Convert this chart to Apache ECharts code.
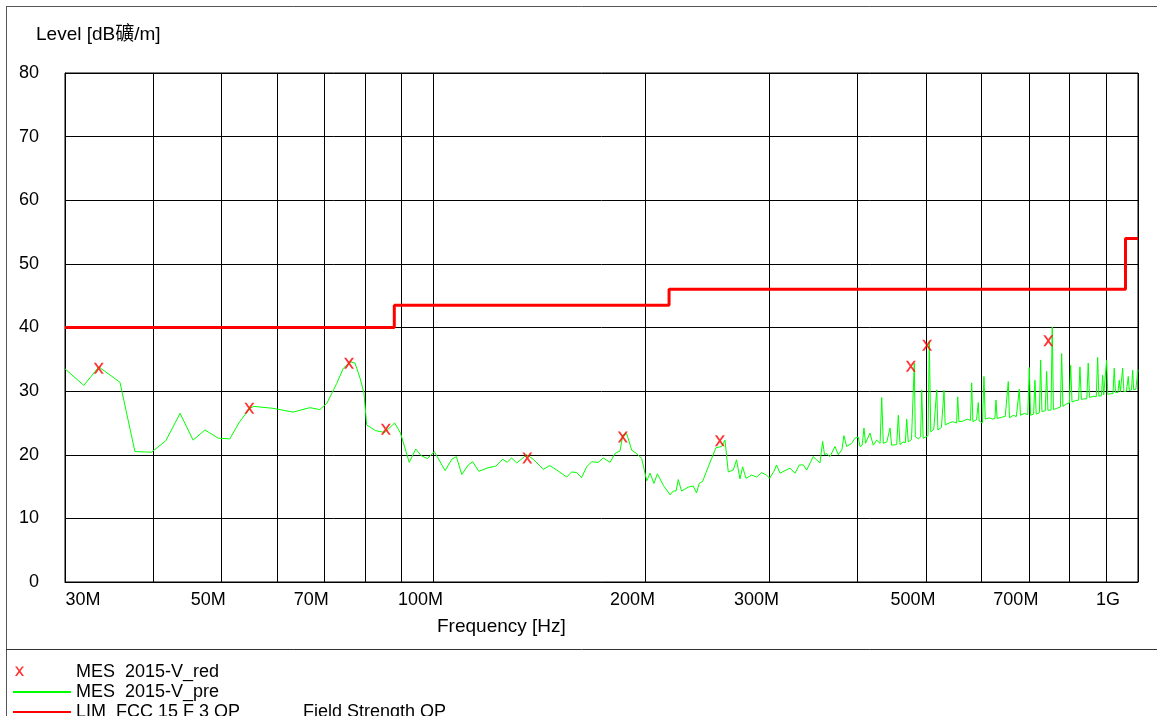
<!DOCTYPE html>
<html>
<head>
<meta charset="utf-8">
<script src="https://cdn.jsdelivr.net/npm/echarts@6.0.0/dist/echarts.min.js"></script>
<style>
  html, body { margin: 0; padding: 0; background: #fff; }
  #chart { width: 1157px; height: 716px; }
</style>
</head>
<body>
<div id="chart"></div>
<script>
// frequency in MHz, level in dBuV/m
var preFreq = [
  30, 31.9, 33.5, 35.9, 37.7, 39.8, 41.7, 43.7, 45.6, 47.4, 49.5, 51.4, 53.1, 54.9, 55.6, 59.2, 63.2, 66.8, 69.0, 70.6,
  72.9, 74.5, 76.2, 77.4, 78.6, 79.7, 80.4, 82.7, 85.3, 88.1, 89.8, 92.4, 94.4, 96.2, 98.1, 100.3, 103.9, 106.2, 107.8,
  109.7, 112.1, 113.7, 116.0, 119.9, 122.6, 125.4, 127.3, 129.1, 131.3, 135.6, 138.6, 143.2, 146.3, 149.6, 154.6, 157.1,
  159.7, 162.3, 165.0, 167.7, 171.4, 174.2, 178.1, 181.0, 184.0, 185.7, 188.1, 191.2, 194.3, 197.5, 200.8, 203.0, 205.6,
  207.9, 212.0, 216.7, 219.0, 221.0, 222.6, 225.0, 229.9, 233.7, 236.3, 238.4, 241.0, 243.7, 248.2, 251.8, 256.5, 259.3,
  262.1, 266.4, 269.3, 272.3, 274.7, 277.7, 282.9, 287.6, 292.3, 297.1, 300.0, 304.3, 306.9, 310.4, 320.7, 326.0, 330.6,
  334.9, 338.6, 346.0, 349.9, 353.7, 356.8, 359, 361.5, 365.4, 371.5, 375.5, 380, 382.5, 385.9, 392.3, 396.5,
  400.8, 403.1, 406, 408.4, 410.5, 416.5, 421.0, 425.7, 430.5, 432.8, 435, 440, 444.7, 447, 454.5, 456.9, 459.5,
  464, 467.5, 469.6, 472, 477, 479.8, 481.4, 483, 488, 491.5, 493.2, 495.5, 500, 503.5, 505.6, 508, 513, 516.3,
  518.0, 520, 526, 529, 530.5, 532.5, 540, 545, 552.8, 554.8, 557, 565, 572, 578.5, 580.7, 583, 590, 592, 593.4,
  595, 601.5, 604.5, 607, 615, 622, 626.5, 628.7, 631, 640, 648, 652, 654.5, 657, 665, 672, 676, 678.4, 681, 690,
  697.5, 700.9, 704, 711, 714.1, 717, 724.5, 727.5, 730.5, 738.5, 741.9, 745, 752.5, 755.6, 758.5, 767, 776, 779.2,
  782.5, 792, 799, 802.4, 806, 815, 823.5, 827.2, 831, 840, 846, 849.9, 853.5, 865, 872.5, 876.5, 880, 887.5, 890.9,
  894, 899, 902.6, 906, 915, 921.5, 925.3, 929, 936.5, 940.6, 944, 947.5, 951.1, 955, 963, 965, 968.7, 972, 979,
  982.7, 986, 993, 997, 1000
];
var preLevel = [
  33.5, 30.9, 33.8, 31.4, 20.5, 20.4, 22.2, 26.5, 22.3, 23.9, 22.6, 22.5, 25.2, 27.3, 27.6, 27.3, 26.7, 27.4, 27.1, 28.1,
  31.2, 33.6, 34.6, 34.4, 32.2, 29.7, 24.7, 23.8, 23.5, 25.0, 23.4, 18.8, 20.9, 19.8, 19.4, 20.5, 17.5, 19.3, 19.7,
  16.9, 18.4, 18.9, 17.4, 18.0, 18.2, 19.3, 18.8, 19.5, 18.7, 20.0, 19.3, 17.7, 18.3, 17.6, 16.5, 17.3,
  17.2, 16.4, 18.1, 18.9, 18.8, 19.5, 18.8, 20.2, 20.6, 23.1, 23.3, 20.7, 20.2, 19.4, 15.9, 17.1, 15.5,
  17.0, 15.2, 13.7, 14.3, 14.3, 16.1, 14.3, 14.9, 15.1, 14.0, 15.5, 15.8, 17.2, 19.4, 21.1, 21.3, 22.3,
  17.3, 17.6, 19.2, 16.2, 18.1, 16.3, 16.8, 16.5, 17.2, 16.8, 16.3, 17.4, 18.4, 17.1, 17.9, 17.1, 18.4,
  18.4, 17.6, 19.7, 19.2, 18.7, 22.1, 20.0, 20.2, 19.7, 21.3, 20.0, 20.8, 23.0, 21.3, 21.8, 22.6,
  22.8, 21.3, 21.5, 24.2, 21.8, 23.4, 21.5, 22.3, 21.8, 29.0, 21.8, 22.0, 24.2, 21.5, 21.6, 26.2, 21.6,
  22.0, 21.9, 25.6, 22.0, 22.4, 22.6, 34.4, 22.8, 22.5, 22.8, 30.2, 22.6, 22.8, 23.0, 37.8, 23.6, 24.0, 23.8,
  30.2, 23.9, 24.3, 24.5, 30.1, 24.7, 25.0, 25.2, 25.0, 29.1, 25.2, 25.3, 25.6, 25.4, 31.3, 25.2, 25.5, 25.6, 28.2,
  25.3, 25.0, 32.3, 25.6, 25.8, 25.6, 25.7, 28.6, 25.7, 25.9, 26.0, 25.8, 31.5, 25.8, 26.2, 26.0, 26.1, 30.3, 26.2, 26.5,
  26.3, 33.7, 26.2, 26.4, 31.7, 26.4, 26.6, 34.9, 26.8, 26.9, 33.1, 27.0, 27.0, 40.1, 27.1, 27.3, 27.5, 35.9,
  27.6, 28.0, 28.1, 34.1, 28.3, 28.5, 28.6, 33.8, 28.7, 28.8, 28.8, 34.4, 29.0, 29.2, 29.1, 35.3, 29.2, 29.3, 32.5,
  29.4, 29.4, 34.9, 29.5, 29.6, 29.6, 33.6, 29.8, 29.8, 31.7, 29.9, 29.9, 33.6, 29.9, 30.0, 30.0, 32.3, 30.1, 30.2,
  33.3, 30.2, 30.3, 30.3, 33.4
];

var redFreq = [33.5, 54.8, 75.9, 85.6, 135.9, 185.7, 255, 476, 502, 746];
var redLevel = [33.6, 27.3, 34.4, 24.0, 19.5, 22.8, 22.2, 33.9, 37.2, 37.9];

var limFreq = [30, 88, 216, 960, 1000];
var limLevel = [40, 43.5, 46, 54, 54];

var gridFreqs = [30, 40, 50, 60, 70, 80, 90, 100, 200, 300, 400, 500, 600, 700, 800, 900, 1000];
var labelFreqs = [30, 50, 70, 100, 200, 300, 500, 700, 1000];

function zip(xs, ys) {
  return xs.map(function (x, i) { return [x, ys[i]]; });
}

var FONT = '"Liberation Sans", Arial, "Noto Sans CJK SC", sans-serif';
var xMark = 'path://M0,0 L2.2,0 L5,3.6 L7.8,0 L10,0 L6.1,5 L10,10 L7.8,10 L5,6.4 L2.2,10 L0,10 L3.9,5 Z';
// same cross, kept at the left end of a 58px wide legend slot
var xLegend = 'path://M2,0 L4,0 L6.5,3.3 L9,0 L11,0 L7.5,4.6 L11,9.5 L9,9.5 L6.5,5.9 L4,9.5 L2,9.5 L5.5,4.6 Z M58,0 M0,11';

var chart = echarts.init(document.getElementById('chart'), null, { renderer: 'canvas' });

chart.setOption({
  animation: false,
  backgroundColor: '#fff',
  textStyle: { fontFamily: FONT },
  title: [
    { text: 'Level [dB礦/m]', left: 36, top: 25, padding: 0,
      textStyle: { fontFamily: FONT, fontSize: 19, fontWeight: 'normal', color: '#000' } },
    { text: 'Frequency [Hz]', left: 437, top: 617, padding: 0,
      textStyle: { fontFamily: FONT, fontSize: 19, fontWeight: 'normal', color: '#000' } }
  ],
  graphic: [
    { type: 'line', shape: { x1: 6.5, y1: 6, x2: 6.5, y2: 716 }, style: { stroke: '#555', lineWidth: 1 } },
    { type: 'line', shape: { x1: 6, y1: 6.5, x2: 1157, y2: 6.5 }, style: { stroke: '#555', lineWidth: 1 } },
    { type: 'line', shape: { x1: 6, y1: 649.5, x2: 1157, y2: 649.5 }, style: { stroke: '#333', lineWidth: 1 } }
  ],
  legend: {
    orient: 'vertical',
    left: 12,
    top: 662,
    height: 200,
    padding: 0,
    itemGap: 0,
    itemWidth: 58,
    itemHeight: 12,
    data: [
      { name: 'MES  2015-V_red', icon: xLegend },
      { name: 'MES  2015-V_pre', itemStyle: { opacity: 0 } },
      { name: 'LIM  FCC 15 F 3 QP', itemStyle: { opacity: 0 } }
    ],
    formatter: function (name) {
      if (name === 'LIM  FCC 15 F 3 QP') return '{a|' + name + '}{b|Field Strength QP}';
      return name;
    },
    textStyle: {
      fontFamily: FONT, fontSize: 18, color: '#000', lineHeight: 20,
      rich: { a: { width: 227, fontSize: 18, fontFamily: FONT }, b: { fontSize: 18, fontFamily: FONT } }
    }
  },
  grid: {
    left: 65, right: 19, top: 73, bottom: 134,
    show: true, borderColor: '#000', borderWidth: 1, backgroundColor: '#fff'
  },
  xAxis: {
    type: 'log',
    logBase: 10,
    min: 30,
    max: 1000,
    axisLine: { show: true, lineStyle: { color: '#000', width: 1 } },
    axisTick: { show: false, customValues: gridFreqs },
    splitLine: { show: true, lineStyle: { color: '#000', width: 1 } },
    axisLabel: {
      customValues: labelFreqs,
      margin: 9,
      color: '#000',
      fontFamily: FONT,
      fontSize: 18,
      formatter: function (v) {
        v = Math.round(v);
        if (v === 30) return '{first|30M}';
        if (v === 1000) return '{last|1G}';
        return '{mid|' + v + 'M}';
      },
      rich: {
        first: { padding: [0, 0, 0, 36], fontSize: 18, fontFamily: FONT, color: '#000' },
        mid: { padding: [0, 26, 0, 0], fontSize: 18, fontFamily: FONT, color: '#000' },
        last: { padding: [0, 60, 0, 0], fontSize: 18, fontFamily: FONT, color: '#000' }
      }
    }
  },
  yAxis: {
    type: 'value',
    min: 0,
    max: 80,
    interval: 10,
    axisLine: { show: true, lineStyle: { color: '#000', width: 1 } },
    axisTick: { show: false },
    splitLine: { show: true, lineStyle: { color: '#000', width: 1 } },
    axisLabel: { margin: 26, color: '#000', fontFamily: FONT, fontSize: 18 }
  },
  series: [
    {
      name: 'MES  2015-V_pre',
      type: 'line',
      data: zip(preFreq, preLevel),
      symbol: 'none',
      lineStyle: { color: '#00ff00', width: 1 },
      itemStyle: { color: '#00ff00' },
      z: 3
    },
    {
      name: 'LIM  FCC 15 F 3 QP',
      type: 'line',
      step: 'end',
      data: zip(limFreq, limLevel),
      symbol: 'none',
      lineStyle: { color: '#ff0000', width: 3 },
      itemStyle: { color: '#ff0000' },
      z: 4
    },
    {
      name: 'MES  2015-V_red',
      type: 'scatter',
      data: zip(redFreq, redLevel),
      symbol: xMark,
      symbolSize: [10, 11],
      itemStyle: { color: '#ff0000' },
      z: 5
    }
  ]
});
</script>
</body>
</html>
